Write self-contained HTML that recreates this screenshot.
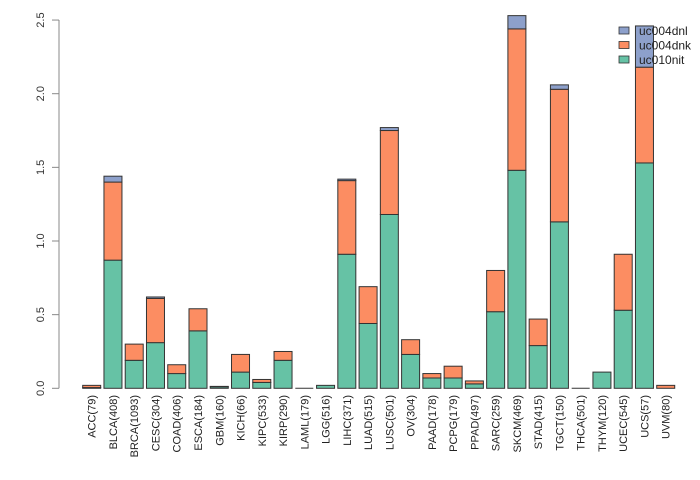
<!DOCTYPE html>
<html><head><meta charset="utf-8"><style>
body{margin:0;background:#fff}
svg{display:block;font-family:"Liberation Sans",sans-serif}
</style></head><body>
<svg id="chart" width="700" height="480"></svg>
<script>
const categories=["ACC(79)","BLCA(408)","BRCA(1093)","CESC(304)","COAD(406)","ESCA(184)","GBM(160)","KICH(66)","KIPC(533)","KIRP(290)","LAML(179)","LGG(516)","LIHC(371)","LUAD(515)","LUSC(501)","OV(304)","PAAD(178)","PCPG(179)","PPAD(497)","SARC(259)","SKCM(469)","STAD(415)","TGCT(150)","THCA(501)","THYM(120)","UCEC(545)","UCS(57)","UVM(80)"];
const uc010nit=[0.005,0.87,0.19,0.31,0.10,0.39,0.01,0.11,0.04,0.19,0,0.02,0.91,0.44,1.18,0.23,0.07,0.07,0.03,0.52,1.48,0.29,1.13,0,0.11,0.53,1.53,0];
const uc004dnk=[0.015,0.53,0.11,0.30,0.06,0.15,0.003,0.12,0.02,0.06,0,0,0.50,0.25,0.57,0.10,0.03,0.08,0.02,0.28,0.96,0.18,0.90,0,0,0.38,0.65,0.02];
const uc004dnl=[0,0.04,0,0.01,0,0,0,0,0,0,0,0,0.01,0,0.02,0,0,0,0,0,0.09,0,0.03,0,0,0,0.28,0];
const yTicks=[0,0.5,1,1.5,2,2.5];
const yTickLabels=["0.0","0.5","1.0","1.5","2.0","2.5"];
const seriesNames=["uc004dnl","uc004dnk","uc010nit"];
const colors={uc010nit:"#66C2A5",uc004dnk:"#FC8D62",uc004dnl:"#8DA0CB"};

const svg=document.getElementById('chart');
const NS="http://www.w3.org/2000/svg";
function mk(t,a){const e=document.createElementNS(NS,t);for(const k in a)e.setAttribute(k,a[k]);svg.appendChild(e);return e;}
const y0=388.3,yScale=147.3;
function yPos(v){return y0-v*yScale;}
function xPos(i){return 82.7+i*21.26;}
const bw=18;

const ax=mk('line',{x1:59,x2:59,y1:yPos(0),y2:yPos(2.5),stroke:"#888"});


yTicks.forEach((v,i)=>{
  const t=mk('line',{x1:52,x2:59,y1:yPos(v),y2:yPos(v),stroke:"#888"});
  
  
  const l=mk('text',{x:0,y:0,transform:`translate(44,${yPos(v)}) rotate(-90)`,"text-anchor":"middle","font-size":11,fill:"#333"});
  l.textContent=yTickLabels[i];
  
  
});

categories.forEach((c,i)=>{
  const x=xPos(i);
  let base=0;
  [["uc010nit",uc010nit[i]],["uc004dnk",uc004dnk[i]],["uc004dnl",uc004dnl[i]]].forEach(([s,v])=>{
    if(v<=0)return;
    const r=mk('rect',{x:x,y:yPos(base+v),width:bw,height:v*yScale,fill:colors[s],stroke:"#333","stroke-width":1});
    
    
    base+=v;
  });
  if(base===0){
    const z=mk('line',{x1:x,x2:x+bw,y1:y0,y2:y0,stroke:"#333"});
    
    
  }
  const l=mk('text',{x:0,y:0,transform:`translate(${x+bw/2+4},395) rotate(-90)`,"text-anchor":"end","font-size":11,fill:"#222"});
  l.textContent=c;
  
  
});

seriesNames.forEach((s,i)=>{
  const yy=27+i*14.5;
  const b=mk('rect',{x:619,y:yy,width:10,height:7,fill:colors[s],stroke:"#333","stroke-width":0.8});
  
  
  const t=mk('text',{x:639,y:yy+8,"font-size":12,fill:"#222"});
  t.textContent=s;
  
  
});
</script>
</body></html>
